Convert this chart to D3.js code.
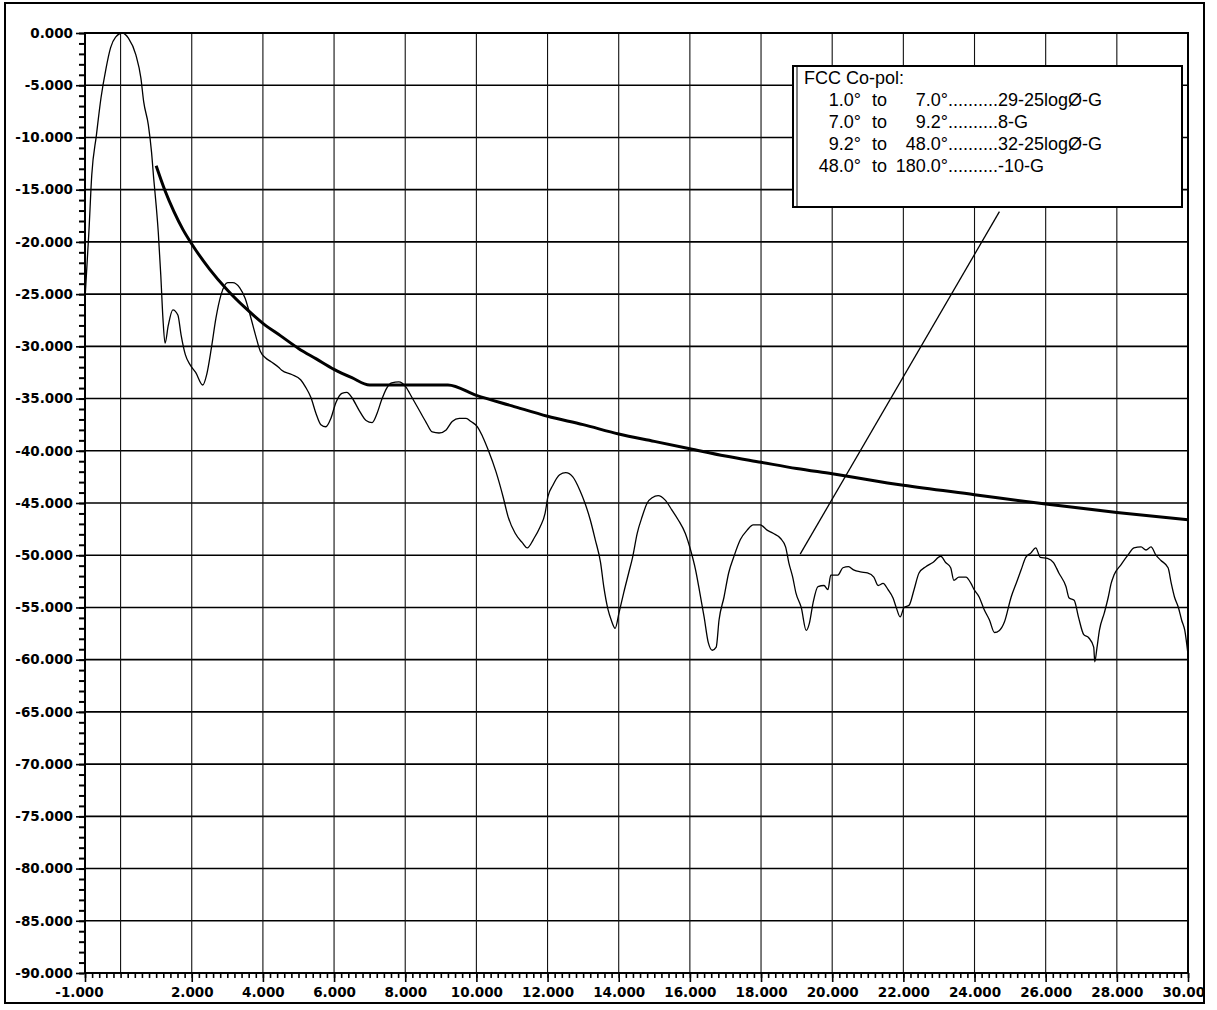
<!DOCTYPE html>
<html>
<head>
<meta charset="utf-8">
<script src="https://cdn.jsdelivr.net/npm/d3@7"></script>
<style>
  html, body { margin: 0; padding: 0; background: #fff; }
  svg { display: block; }
</style>
</head>
<body>
<svg id="chart" width="1217" height="1010"></svg>
<script>
// Measured co-pol pattern: off-axis angle (deg) and relative gain (dB)
const patternAngle = [
  -1.00, -0.89, -0.81, -0.68, -0.55, -0.41, -0.28, -0.14, 0.05, 0.22,
  0.43, 0.57, 0.65, 0.78, 0.87, 0.93, 1.00, 1.06, 1.13, 1.19,
  1.25, 1.34, 1.47, 1.61, 1.70, 1.82, 1.96, 2.11, 2.31, 2.42,
  2.55, 2.68, 2.82, 3.01, 3.15, 3.35, 3.50, 3.64, 3.79, 3.93,
  4.07, 4.24, 4.44, 4.53, 4.81, 5.06, 5.20, 5.35, 5.49, 5.63,
  5.77, 5.91, 6.05, 6.22, 6.36, 6.50, 6.70, 6.90, 7.07, 7.21,
  7.34, 7.48, 7.62, 7.82, 8.02, 8.19, 8.39, 8.59, 8.76, 8.95,
  9.15, 9.32, 9.52, 9.71, 9.85, 10.03, 10.17, 10.33, 10.55, 10.75,
  10.89, 11.09, 11.29, 11.43, 11.60, 11.79, 11.93, 12.01, 12.15, 12.34,
  12.51, 12.71, 12.91, 13.05, 13.20, 13.34, 13.49, 13.58, 13.70, 13.79,
  13.90, 14.01, 14.14, 14.28, 14.39, 14.52, 14.66, 14.80, 14.94, 15.11,
  15.30, 15.50, 15.67, 15.87, 16.02, 16.16, 16.28, 16.40, 16.52, 16.63,
  16.74, 16.82, 16.96, 17.09, 17.23, 17.42, 17.61, 17.78, 17.98, 18.17,
  18.34, 18.55, 18.69, 18.78, 18.89, 18.98, 19.13, 19.27, 19.36, 19.46,
  19.60, 19.77, 19.88, 19.96, 20.16, 20.30, 20.46, 20.60, 20.80, 20.99,
  21.17, 21.29, 21.43, 21.57, 21.71, 21.80, 21.91, 22.02, 22.16, 22.30,
  22.44, 22.63, 22.83, 23.05, 23.19, 23.33, 23.42, 23.56, 23.76, 23.90,
  23.99, 24.13, 24.27, 24.42, 24.56, 24.70, 24.84, 25.03, 25.17, 25.31,
  25.44, 25.58, 25.72, 25.85, 26.05, 26.22, 26.37, 26.57, 26.66, 26.80,
  26.92, 27.07, 27.21, 27.35, 27.38, 27.44, 27.51, 27.65, 27.76, 27.84,
  27.92, 28.12, 28.31, 28.48, 28.68, 28.82, 28.96, 29.10, 29.24, 29.44,
  29.53, 29.62, 29.73, 29.82, 29.91, 30.00
];
const patternGain = [
  -25.5, -19.0, -13.6, -9.8, -6.2, -3.4, -1.4, -0.4, 0.0, -0.5,
  -2.1, -4.3, -6.6, -8.8, -11.4, -13.9, -16.5, -19.1, -23.2, -27.3,
  -29.7, -28.0, -26.5, -27.0, -28.9, -30.8, -31.8, -32.5, -33.7, -32.7,
  -30.2, -27.3, -25.1, -23.9, -23.9, -24.4, -25.4, -27.0, -28.9, -30.5,
  -31.1, -31.5, -32.0, -32.3, -32.7, -33.2, -33.9, -34.9, -36.4, -37.5,
  -37.7, -36.9, -35.4, -34.5, -34.4, -34.9, -36.1, -37.1, -37.3, -36.4,
  -35.1, -34.0, -33.5, -33.4, -33.9, -34.9, -36.1, -37.3, -38.2, -38.3,
  -38.0, -37.2, -36.9, -36.9, -37.2, -37.7, -38.6, -39.9, -42.0, -44.4,
  -46.3, -47.9, -48.8, -49.3, -48.5, -47.3, -46.0, -44.4, -43.3, -42.3,
  -42.1, -42.5, -43.8, -45.0, -46.6, -48.5, -50.7, -53.0, -55.2, -56.2,
  -57.0, -55.5, -53.6, -51.7, -50.2, -47.9, -46.3, -45.0, -44.5, -44.3,
  -44.7, -45.7, -46.6, -47.9, -49.5, -51.4, -53.6, -55.9, -58.4, -59.1,
  -58.8, -56.2, -54.0, -51.7, -50.2, -48.5, -47.6, -47.1, -47.1, -47.6,
  -47.9, -48.4, -49.2, -50.7, -52.1, -53.6, -55.0, -57.2, -56.5, -54.6,
  -53.0, -52.9, -53.3, -51.9, -51.9, -51.2, -51.1, -51.4, -51.6, -51.7,
  -52.1, -52.9, -52.7, -53.3, -54.1, -55.0, -55.9, -55.0, -54.8, -53.3,
  -51.7, -51.1, -50.7, -50.1, -50.7, -51.2, -52.4, -52.1, -52.1, -52.7,
  -53.3, -54.0, -55.2, -56.2, -57.4, -57.2, -56.4, -54.0, -52.7, -51.4,
  -50.2, -49.8, -49.3, -50.2, -50.3, -50.7, -51.7, -53.0, -54.1, -54.3,
  -55.9, -57.6, -57.9, -58.8, -60.2, -58.9, -57.2, -55.5, -54.0, -52.7,
  -51.9, -50.9, -50.0, -49.3, -49.2, -49.5, -49.2, -50.0, -50.5, -51.2,
  -52.7, -54.0, -55.0, -56.2, -57.2, -59.5
];

// FCC co-pol sidelobe envelope (deg, dB relative to peak gain)
const envelopeAngle = [
  1.0, 1.25, 1.5, 1.75, 2.0, 2.5, 3.0, 3.5, 4.0, 4.5, 5.0, 5.5, 6.0, 6.5, 7.0,
  9.2, 10, 11, 12, 13, 14, 15, 16, 17, 18, 19, 20, 22, 24, 26, 28, 30
];
const envelopeGain = [
  -12.7, -15.1, -17.1, -18.8, -20.2, -22.6, -24.6, -26.3, -27.8, -29.0, -30.2, -31.2, -32.2, -33.0, -33.7,
  -33.7, -34.7, -35.7, -36.7, -37.5, -38.4, -39.1, -39.8, -40.5, -41.1, -41.7, -42.2, -43.3, -44.2, -45.1, -45.9, -46.6
];

// Axis ticks
const xTickValues = [-1, 2, 4, 6, 8, 10, 12, 14, 16, 18, 20, 22, 24, 26, 28, 30];
const xGridValues = [0, 2, 4, 6, 8, 10, 12, 14, 16, 18, 20, 22, 24, 26, 28];
const yTickValues = [0, -5, -10, -15, -20, -25, -30, -35, -40, -45, -50, -55, -60, -65, -70, -75, -80, -85, -90];

// Legend rows
const legendTitle = "FCC Co-pol:";
const legendFrom = ["1.0°", "7.0°", "9.2°", "48.0°"];
const legendTo = ["7.0°", "9.2°", "48.0°", "180.0°"];
const legendRule = ["29-25logØ-G", "8-G", "32-25logØ-G", "-10-G"];

// Pointer from the legend down to the pattern
const pointerAngle = [19.1, 24.7];
const pointerGain = [-49.9, -17.1];

const svg = d3.select("#chart");
const W = 1217, H = 1010;
const plot = { left: 85, right: 1188, top: 33, bottom: 973 };

const x = d3.scaleLinear().domain([-1, 30]).range([plot.left, plot.right]);
const y = d3.scaleLinear().domain([0, -90]).range([plot.top, plot.bottom]);

svg.append("rect").attr("width", W).attr("height", H).attr("fill", "#fff");

// outer window frame
svg.append("rect")
  .attr("x", 5).attr("y", 3).attr("width", 1199).attr("height", 1000)
  .attr("fill", "none").attr("stroke", "#000").attr("stroke-width", 2);

svg.append("defs").append("clipPath").attr("id", "frameClip")
  .append("rect").attr("x", 0).attr("y", 0).attr("width", 1203).attr("height", H);

// grid
const grid = svg.append("g");
grid.selectAll("line.h")
  .data(yTickValues.filter(v => v < 0 && v > -90))
  .join("line")
  .attr("x1", plot.left).attr("x2", plot.right)
  .attr("y1", d => y(d)).attr("y2", d => y(d))
  .attr("stroke", "#000").attr("stroke-width", 1.6);
grid.selectAll("line.v")
  .data(xGridValues)
  .join("line")
  .attr("x1", d => x(d)).attr("x2", d => x(d))
  .attr("y1", plot.top).attr("y2", plot.bottom)
  .attr("stroke", "#111").attr("stroke-width", 1.1);

// axes
const axisFont = "'DejaVu Sans', sans-serif";
const yMinor = d3.range(0, 91).map(i => -i);
svg.append("g")
  .attr("transform", `translate(${plot.left - 1},0)`)
  .call(d3.axisLeft(y).tickValues(yMinor).tickSize(5).tickFormat(""))
  .call(g => g.select(".domain").remove())
  .call(g => g.selectAll("line").attr("stroke", "#000").attr("stroke-width", 2));
svg.append("g")
  .attr("transform", `translate(${plot.left},0)`)
  .call(d3.axisLeft(y).tickValues(yTickValues).tickSize(9).tickPadding(3).tickFormat(d => d.toFixed(3)))
  .call(g => g.select(".domain").remove())
  .call(g => g.selectAll("line").attr("stroke", "#000").attr("stroke-width", 1.6))
  .call(g => g.selectAll("text")
    .attr("font-family", axisFont).attr("font-weight", "bold")
    .attr("font-size", "13.5px").attr("fill", "#000"));

const xMinor = d3.range(0, 156).map(i => -1 + i * 0.2);
svg.append("g")
  .attr("transform", `translate(0,${plot.bottom})`)
  .call(d3.axisBottom(x).tickValues(xMinor).tickSize(5).tickFormat(""))
  .call(g => g.select(".domain").remove())
  .call(g => g.selectAll("line").attr("stroke", "#000").attr("stroke-width", 1.6));
svg.append("g")
  .attr("transform", `translate(0,${plot.bottom})`)
  .attr("clip-path", "url(#frameClip)")
  .call(d3.axisBottom(x).tickValues(xTickValues).tickSize(9).tickPadding(5).tickFormat(d => d.toFixed(3)))
  .call(g => g.select(".domain").remove())
  .call(g => g.selectAll("line").attr("stroke", "#000").attr("stroke-width", 1.6))
  .call(g => g.selectAll("text")
    .attr("font-family", axisFont).attr("font-weight", "bold")
    .attr("font-size", "13.5px").attr("fill", "#000")
    .attr("dx", d => d === -1 ? -6 : 0));

// plot border
svg.append("rect")
  .attr("x", plot.left).attr("y", plot.top)
  .attr("width", plot.right - plot.left).attr("height", plot.bottom - plot.top)
  .attr("fill", "none").attr("stroke", "#000").attr("stroke-width", 2);

// curves
const patternLine = d3.line()
  .x(i => x(patternAngle[i])).y(i => y(patternGain[i]))
  .curve(d3.curveMonotoneX);
svg.append("path")
  .attr("d", patternLine(d3.range(patternAngle.length)))
  .attr("fill", "none").attr("stroke", "#000").attr("stroke-width", 1.3)
  .attr("stroke-linejoin", "round");

const envelopeLine = d3.line()
  .x(i => x(envelopeAngle[i])).y(i => y(envelopeGain[i]))
  .curve(d3.curveMonotoneX);
svg.append("path")
  .attr("d", envelopeLine(d3.range(envelopeAngle.length)))
  .attr("fill", "none").attr("stroke", "#000").attr("stroke-width", 3)
  .attr("stroke-linejoin", "round");

svg.append("line")
  .attr("x1", x(pointerAngle[0])).attr("y1", y(pointerGain[0]))
  .attr("x2", x(pointerAngle[1])).attr("y2", y(pointerGain[1]))
  .attr("stroke", "#000").attr("stroke-width", 1.3);

// legend box
const lg = svg.append("g");
lg.append("rect")
  .attr("x", 793).attr("y", 66).attr("width", 389).attr("height", 141)
  .attr("fill", "#fff").attr("stroke", "#000").attr("stroke-width", 2);
lg.append("line")
  .attr("x1", 797).attr("x2", 797).attr("y1", 67).attr("y2", 206)
  .attr("stroke", "#000").attr("stroke-width", 1);

const legendFont = "'Liberation Sans', Arial, sans-serif";
const lt = (txt, px, py, anchor) => lg.append("text")
  .attr("x", px).attr("y", py).attr("text-anchor", anchor || "start")
  .attr("font-family", legendFont).attr("font-size", "18px").attr("fill", "#000")
  .text(txt);

lt(legendTitle, 804, 84);
const ruleX = 998;
legendFrom.forEach((from, i) => {
  const base = 106 + i * 22;
  lt(from, 861, base, "end");
  lt("to", 872, base);
  lt(legendTo[i], 948, base, "end");
  // leader dots run from the end angle right up to the rule text
  const probe = lt(".", 0, -100);
  const dotW = probe.node().getComputedTextLength();
  probe.remove();
  const n = Math.max(0, Math.round((ruleX - 948) / dotW));
  lt(".".repeat(n), ruleX, base, "end");
  lt(legendRule[i], ruleX, base);
});
</script>
</body>
</html>
